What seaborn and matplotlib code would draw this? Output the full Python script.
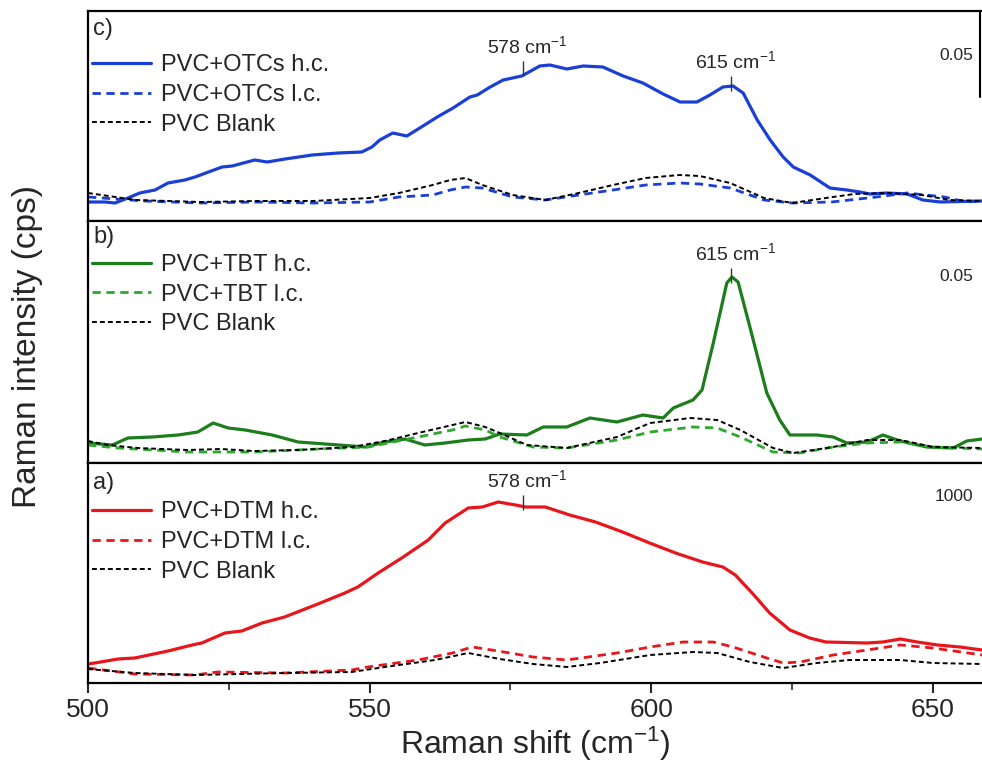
import numpy as np
import pandas as pd
import matplotlib
matplotlib.use("Agg")
import matplotlib.pyplot as plt
import seaborn as sns

# ---- data (relative intensity, arbitrary units) ----
# panel c) PVC + OTCs
c_hc_x = [500.0, 503.0, 504.8, 507.1, 509.2, 511.9, 514.2, 517.2, 519.0, 523.8, 525.6, 529.6, 531.8, 535.0,
          539.8, 544.4, 548.6, 550.4, 551.8, 554.1, 556.6, 558.9, 562.0, 564.8, 567.8, 569.1, 571.4, 573.7,
          577.0, 580.2, 582.0, 585.0, 587.9, 591.4, 595.0, 598.5, 602.1, 605.1, 608.1, 610.4, 612.7, 614.5,
          616.3, 618.8, 621.1, 623.4, 625.2, 628.2, 631.7, 634.7, 637.0, 638.8, 641.8, 645.4, 648.2, 651.3, 658.7]
c_hc_y = [19, 19, 18, 23, 28, 31, 38, 41, 44, 54, 55, 61, 59, 62,
          66, 68, 69, 74, 81, 88, 85, 93, 104, 113, 124, 126, 134, 141,
          145, 155, 156, 152, 155, 154, 145, 138, 127, 119, 119, 126, 134, 135,
          128, 101, 81, 64, 54, 46, 33, 31, 29, 27, 28, 27, 21, 19, 20]
c_lc_x = [500, 510, 520, 530, 540, 550, 555.2, 561.2, 564.3, 567, 570, 575.4, 581.2, 587.1, 593.2, 599,
          605, 608.6, 614, 620, 625, 632, 640, 645.4, 652, 656, 658.7]
c_lc_y = [24, 20, 18, 19, 18, 19, 24, 26, 31, 34, 33, 24, 21, 26, 31, 36,
          38, 37, 33, 21, 18, 19, 24, 28, 24, 19, 20]
c_bl_x = [500, 508.5, 520, 530, 540, 550, 555.2, 561.2, 564.3, 567, 570, 575.4, 581.2, 587.1, 593.2, 599,
          605, 608.6, 614, 620, 625, 631, 636, 642, 648, 653, 658.7]
c_bl_y = [28, 21, 19, 20, 20, 23, 28, 36, 41, 43, 36, 26, 21, 28, 36, 43,
          46, 45, 38, 23, 18, 23, 27, 28, 26, 21, 20]

# panel b) PVC + TBT
b_hc_x = [500, 504.3, 507.1, 511.4, 516.0, 519.5, 522.2, 524.9, 527.9, 532.7, 537.3, 542.1, 546.9, 549.2,
          552.7, 556.3, 558.6, 559.8, 563.4, 567.5, 570.5, 573.1, 577.9, 580.8, 585.0, 589.1, 593.9, 598.5,
          602.1, 603.9, 607.4, 609.0, 611.0, 613.4, 614.3, 615.4, 617.5, 620.5, 622.8, 624.6, 629.4, 632.3,
          634.7, 638.3, 641.1, 644.2, 648.9, 653.6, 656.0, 658.7]
b_hc_y = [20, 18, 25, 26, 28, 31, 40, 35, 33, 28, 21, 19, 17, 16,
          21, 24, 20, 18, 20, 23, 24, 29, 28, 36, 36, 45, 41, 48,
          45, 55, 63, 73, 120, 180, 186, 181, 136, 70, 43, 28, 28, 26,
          20, 21, 28, 22, 16, 15, 22, 24]
b_lc_x = [500, 505.3, 517.7, 529.4, 540.9, 549.8, 558.6, 564.7, 567, 570.5, 573.1, 579, 585, 593.9,
          599.8, 607.4, 611.7, 615.8, 621.6, 626.3, 632.3, 638.3, 644.2, 650, 658.7]
b_lc_y = [18, 15, 11, 11, 14, 16, 26, 33, 37, 33, 26, 16, 15, 23,
          31, 36, 35, 26, 11, 10, 16, 20, 21, 16, 14]
b_bl_x = [500, 503.5, 508.8, 517.7, 523.6, 529.4, 537.3, 546.9, 552.7, 558.6, 564.7, 567.0, 570.5, 573.1,
          577.9, 585, 593.9, 599.8, 606.9, 611.7, 615.8, 621.6, 625.2, 632.3, 638.3, 644.2, 650, 658.7]
b_bl_y = [22, 18, 15, 13, 14, 12, 13, 16, 22, 30, 38, 41, 36, 30,
          18, 15, 26, 40, 45, 43, 33, 15, 10, 16, 23, 23, 16, 15]

# panel a) PVC + DTM
a_hc_x = [500, 501.2, 505.3, 508.3, 514.2, 518.5, 520.2, 524.3, 527.3, 530.9, 534.9, 540.8, 545.6, 547.9,
          551.5, 555.7, 560.4, 563.4, 567.5, 570.0, 572.8, 575.9, 577.7, 581.2, 585.5, 590.1, 594.9, 599.7,
          604.3, 609.1, 612.7, 614.9, 617.9, 621.0, 624.6, 628.1, 631.0, 638.3, 641.1, 644.2, 647.2, 650.8,
          654.8, 658.7]
a_hc_y = [19, 20, 24, 25, 32, 38, 40, 50, 52, 60, 66, 79, 90, 96,
          110, 125, 143, 160, 175, 176, 181, 178, 176, 176, 168, 161, 151, 140,
          130, 121, 116, 108, 90, 70, 53, 45, 41, 40, 41, 44, 41, 38,
          36, 33]
a_lc_x = [500, 508.3, 519, 523, 534.9, 546.8, 549.7, 558.6, 564.7, 568.2, 572.8, 579, 585, 593.9,
          599.8, 605.6, 611, 614.5, 620.5, 623.4, 626.4, 632.3, 638.3, 644.2, 650, 658.7]
a_lc_y = [15, 9, 8, 11, 10, 13, 16, 23, 30, 36, 32, 26, 23, 30,
          36, 41, 41, 36, 25, 20, 21, 28, 33, 38, 35, 28]
a_bl_x = [500, 508.3, 519, 534.9, 546.8, 552.7, 561.6, 567.5, 573.1, 579, 585, 590.9, 599.8, 607.4,
          611.7, 617.5, 623.4, 629.4, 635.2, 644.2, 650, 658.7]
a_bl_y = [14, 10, 8, 10, 11, 16, 23, 30, 24, 19, 16, 20, 28, 31,
          30, 21, 15, 20, 23, 23, 20, 19]

panels = [
    dict(tag="c)", ylim=210, scale="0.05",
         series=[("PVC+OTCs h.c.", c_hc_x, c_hc_y, "#1a3fd6", "h"),
                 ("PVC+OTCs l.c.", c_lc_x, c_lc_y, "#1a3fd6", "l"),
                 ("PVC Blank", c_bl_x, c_bl_y, "black", "b")],
         peaks=[578, 615]),
    dict(tag="b)", ylim=242, scale="0.05",
         series=[("PVC+TBT h.c.", b_hc_x, b_hc_y, "#1b7d1b", "h"),
                 ("PVC+TBT l.c.", b_lc_x, b_lc_y, "#2ca82c", "l"),
                 ("PVC Blank", b_bl_x, b_bl_y, "black", "b")],
         peaks=[615]),
    dict(tag="a)", ylim=220, scale="1000",
         series=[("PVC+DTM h.c.", a_hc_x, a_hc_y, "#e8161c", "h"),
                 ("PVC+DTM l.c.", a_lc_x, a_lc_y, "#e8161c", "l"),
                 ("PVC Blank", a_bl_x, a_bl_y, "black", "b")],
         peaks=[578]),
]

sns.set_style("ticks")
plt.rcParams['font.family'] = ['Liberation Sans', 'DejaVu Sans']
plt.rcParams['mathtext.fontset'] = 'custom'
plt.rcParams['mathtext.rm'] = 'Liberation Sans'
plt.rcParams['mathtext.it'] = 'Liberation Sans:italic'

fig = plt.figure(figsize=(9.82, 7.76), dpi=100)
gs = fig.add_gridspec(3, 1, height_ratios=[210, 242, 220], hspace=0,
                      left=88 / 982, right=1.0, top=1 - 11 / 776, bottom=1 - 683 / 776)
axes = [fig.add_subplot(gs[i]) for i in range(3)]

legend_tops = [0.795, 0.864, 0.827]
tag_y = [18, 16, 20]
scale_y = [44, 56, 34]

for ax, p, ltop, ty, sy in zip(axes, panels, legend_tops, tag_y, scale_y):
    for label, xs, ys, col, kind in p["series"]:
        if kind == "h":
            sns.lineplot(x=xs, y=ys, ax=ax, color=col, lw=2.3, label=label)
        elif kind == "l":
            sns.lineplot(x=xs, y=ys, ax=ax, color=col, lw=2.0, label=label,
                         linestyle=(0, (3, 2)))
        else:
            sns.lineplot(x=xs, y=ys, ax=ax, color=col, lw=1.4, label=label,
                         linestyle=(0, (2.5, 1.6)))
    ax.set_xlim(500, 658.7)
    ax.set_ylim(0, p["ylim"])
    ax.set_yticks([])
    ax.set_ylabel("")
    for s in ["top", "bottom", "left"]:
        ax.spines[s].set_linewidth(1.6)
        ax.spines[s].set_color("black")
    ax.spines["right"].set_visible(False)
    ax.text(0.006, 1 - ty / p["ylim"], p["tag"], transform=ax.transAxes,
            fontsize=17, va="center", ha="left")
    ax.legend(loc="upper left", bbox_to_anchor=(0.005, ltop), frameon=False, fontsize=17,
              borderpad=0, borderaxespad=0, handlelength=2.5, handletextpad=0.4, labelspacing=0.33)
    ax.text(0.99, 1 - sy / p["ylim"], p["scale"], transform=ax.transAxes,
            fontsize=12.5, ha="right", va="center")
    hx, hy = p["series"][0][1], p["series"][0][2]
    for pk in p["peaks"]:
        yv = np.interp(pk, hx, hy)
        ax.vlines(pk - 0.8, yv - 3, yv + 12, color="#333333", lw=1)
        ax.text(pk, yv + 16, "%d cm$^{-1}$" % pk, fontsize=14, ha="center", va="bottom")

# scale bar in panel c
axes[0].axvline(658.35, ymin=1 - 86 / 210, ymax=1, color="black", lw=1.5)

for ax in axes[:2]:
    ax.tick_params(axis="x", which="both", bottom=False, labelbottom=False)
    ax.set_xlabel("")
ax = axes[2]
ax.set_xticks([500, 550, 600, 650])
ax.set_xticks([525, 575, 625], minor=True)
ax.tick_params(axis="x", which="major", direction="out", length=7, width=1.5, labelsize=19, pad=4)
ax.tick_params(axis="x", which="minor", direction="out", length=5, width=1.2)
ax.set_xlabel("Raman shift (cm$^{-1}$)", fontsize=23, labelpad=2)

fig.text(28 / 982, 1 - 347 / 776, "Raman intensity (cps)", rotation=90, fontsize=24,
         ha="center", va="center")

fig.savefig("out.png", dpi=100)
